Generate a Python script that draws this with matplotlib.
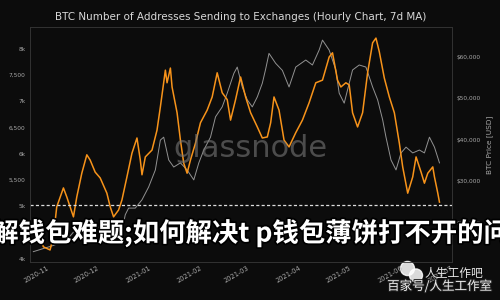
import matplotlib
matplotlib.use("Agg")
import matplotlib.pyplot as plt
import matplotlib.patheffects as pe
from matplotlib.patches import Ellipse
import matplotlib.dates as mdates
import pandas as pd

# addresses sending to exchanges (7d MA), left axis
addr_dates = ["2020-10-24", "2020-10-26", "2020-10-30", "2020-11-03", "2020-11-05", "2020-11-07",
              "2020-11-11", "2020-11-13", "2020-11-15", "2020-11-17", "2020-11-19", "2020-11-22",
              "2020-11-25", "2020-11-27", "2020-11-30", "2020-12-03", "2020-12-07", "2020-12-09",
              "2020-12-11", "2020-12-14", "2020-12-16", "2020-12-19", "2020-12-22", "2020-12-25",
              "2020-12-27", "2020-12-28", "2020-12-30", "2021-01-03", "2021-01-06", "2021-01-08",
              "2021-01-11", "2021-01-12", "2021-01-14", "2021-01-15", "2021-01-18", "2021-01-20",
              "2021-01-22", "2021-01-24", "2021-01-26", "2021-01-29", "2021-02-01", "2021-02-05",
              "2021-02-08", "2021-02-11", "2021-02-14", "2021-02-17", "2021-02-19", "2021-02-22",
              "2021-02-25", "2021-02-28", "2021-03-03", "2021-03-07", "2021-03-10", "2021-03-13",
              "2021-03-15", "2021-03-17", "2021-03-20", "2021-03-23", "2021-03-26", "2021-03-30",
              "2021-04-03", "2021-04-07", "2021-04-11", "2021-04-15", "2021-04-19", "2021-04-21",
              "2021-04-24", "2021-04-26", "2021-04-29", "2021-05-01", "2021-05-03", "2021-05-06",
              "2021-05-09", "2021-05-12", "2021-05-15", "2021-05-17", "2021-05-19", "2021-05-22",
              "2021-05-25", "2021-05-28", "2021-05-31", "2021-06-02", "2021-06-05", "2021-06-08",
              "2021-06-10", "2021-06-13", "2021-06-15", "2021-06-17", "2021-06-20", "2021-06-21",
              "2021-06-23", "2021-06-24"]
addr_values = [4650, 4590, 4230, 4170, 4420, 4990,
               5350, 5180, 4990, 4800, 5180, 5630,
               5980, 5880, 5650, 5540, 5250, 4990,
               4800, 4930, 5120, 5560, 6010, 6300,
               5880, 5600, 5940, 6070, 6450, 6890,
               7590, 7350, 7630, 7270, 6780, 6260,
               5820, 5630, 5880, 6200, 6590, 6830,
               7080, 7540, 7160, 7030, 6640, 7030,
               7460, 7080, 6780, 6510, 6300, 6320,
               6590, 7080, 6830, 6260, 6130, 6400,
               6640, 6970, 7350, 7400, 7840, 7920,
               7400, 7270, 7350, 7310, 6780, 6510,
               6780, 7540, 8110, 8200, 7940, 7440,
               7080, 6780, 6200, 5750, 5250, 5560,
               5940, 5650, 5440, 5630, 5750, 5560,
               5250, 5080]

# btc price, right axis
price_dates = ["2020-10-24", "2020-11-05", "2020-11-13", "2020-11-18", "2020-11-26", "2020-11-28",
               "2020-12-01", "2020-12-07", "2020-12-10", "2020-12-14", "2020-12-17", "2020-12-18",
               "2020-12-20", "2020-12-24", "2020-12-28", "2021-01-01", "2021-01-05", "2021-01-08",
               "2021-01-10", "2021-01-13", "2021-01-16", "2021-01-20", "2021-01-24", "2021-01-28",
               "2021-01-31", "2021-02-03", "2021-02-07", "2021-02-10", "2021-02-14", "2021-02-17",
               "2021-02-21", "2021-02-23", "2021-02-26", "2021-03-01", "2021-03-04", "2021-03-07",
               "2021-03-10", "2021-03-12", "2021-03-14", "2021-03-18", "2021-03-22", "2021-03-26",
               "2021-03-30", "2021-04-05", "2021-04-09", "2021-04-13", "2021-04-15", "2021-04-19",
               "2021-04-23", "2021-04-25", "2021-04-28", "2021-05-03", "2021-05-07", "2021-05-11",
               "2021-05-15", "2021-05-18", "2021-05-21", "2021-05-23", "2021-05-26", "2021-05-29",
               "2021-06-01", "2021-06-04", "2021-06-08", "2021-06-12", "2021-06-15", "2021-06-18",
               "2021-06-21", "2021-06-24"]
price_values = [13000, 14500, 15800, 18200, 18700, 19000,
                19000, 18700, 18700, 19000, 19900, 21900,
                23500, 23500, 25500, 28600, 32700, 39900,
                40600, 35100, 33400, 34400, 32700, 30300,
                34400, 37500, 40600, 45500, 47900, 51200,
                56000, 57500, 52700, 49600, 47900, 50300,
                53600, 57000, 60800, 58400, 56700, 52700,
                57500, 59200, 58000, 61600, 64000, 61600,
                56800, 51200, 48800, 56800, 58000, 57500,
                52700, 49600, 44800, 40600, 35100, 32700,
                36800, 38200, 36800, 37500, 36800, 40600,
                38200, 34400]

left_ticks = [4000, 4500, 5000, 5500, 6000, 6500, 7000, 7500, 8000]
left_labels = ["4k", "4,500", "5k", "5,500", "6k", "6,500", "7k", "7,500", "8k"]
right_ticks = [20000, 30000, 40000, 50000, 60000]
threshold = 5030

bg = "#0c0c0c"
orange = "#f7931a"
tick_col = "#a8a8a8"

fig = plt.figure(figsize=(5, 3), dpi=100, facecolor=bg)
ax = fig.add_axes([0.06, 0.127, 0.844, 0.783])
ax2 = ax.twinx()
ax.set_facecolor(bg)
ax.set_zorder(ax2.get_zorder() + 1)
ax.patch.set_visible(False)
ax2.set_facecolor(bg)

ax2.plot(pd.to_datetime(price_dates), price_values, color="#929292", lw=0.7)
ax.plot(pd.to_datetime(addr_dates), addr_values, color=orange, lw=1.1)
ax.axhline(threshold, color="#dddddd", lw=0.9, ls=(0, (2.5, 1.8)))

ax.set_xlim(pd.Timestamp("2020-10-22"), pd.Timestamp("2021-07-01 12:00"))
ax.set_ylim(3943, 8411)
ax2.set_ylim(10530, 67160)

ax.set_yticks(left_ticks)
ax.set_yticklabels(left_labels)
ax2.set_yticks(right_ticks)
ax2.set_yticklabels(["${:,}".format(v) for v in right_ticks])
ax.xaxis.set_major_locator(mdates.MonthLocator())
ax.xaxis.set_major_formatter(mdates.DateFormatter("%Y-%m"))

ax.tick_params(axis="y", length=0, pad=3, labelsize=4.2, labelcolor=tick_col)
ax2.tick_params(axis="y", length=0, pad=3, labelsize=4.2, labelcolor=tick_col)
ax.tick_params(axis="x", length=0, pad=2, labelsize=4.8, labelcolor=tick_col)
for lbl in ax.get_xticklabels():
    lbl.set_rotation(30)
    lbl.set_ha("right")
    lbl.set_rotation_mode("anchor")

for a in (ax, ax2):
    for s in a.spines.values():
        s.set_color("#333333")
        s.set_linewidth(0.6)

ax2.set_ylabel("BTC Price [USD]", color=tick_col, fontsize=5.3, labelpad=4)

fig.text(0.482, 0.945, "BTC Number of Addresses Sending to Exchanges (Hourly Chart, 7d MA)",
         ha="center", va="center", color="#d8d8d8", fontsize=7.5)
fig.text(0.5, 0.505, "glassnode", ha="center", va="center", color="#777777",
         alpha=0.6, fontsize=22)

# overlay caption + watermark
fig.text(0.502, 0.223, "解钱包难题;如何解决t p钱包薄饼打不开的问",
         ha="center", va="center", color="white", fontsize=19, fontweight="bold",
         family=["Noto Sans CJK SC", "DejaVu Sans"],
         path_effects=[pe.withStroke(linewidth=2.5, foreground="black")])
fig.text(0.966, 0.088, "人生工作吧", ha="right", va="center", color="white", alpha=0.9,
         fontsize=8.5, family=["Noto Sans CJK SC", "DejaVu Sans"])
fig.text(0.984, 0.045, "百家号/人生工作室", ha="right", va="center", color="white", alpha=0.9,
         fontsize=9, family=["Noto Sans CJK SC", "DejaVu Sans"],
         path_effects=[pe.withStroke(linewidth=1.5, foreground="#222222")])
fig.add_artist(Ellipse((0.815, 0.105), 0.028, 0.047, transform=fig.transFigure,
                       color="white", alpha=0.85))
fig.add_artist(Ellipse((0.832, 0.082), 0.026, 0.043, transform=fig.transFigure,
                       color="white", alpha=0.85))

fig.savefig("out.png", dpi=100, facecolor=bg)
